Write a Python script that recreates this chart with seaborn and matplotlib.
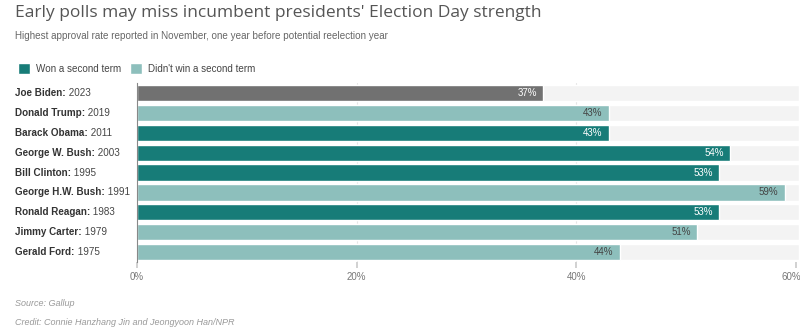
import matplotlib
matplotlib.use("Agg")
import matplotlib.pyplot as plt
import matplotlib.transforms as mtransforms
import seaborn as sns
import pandas as pd
from matplotlib.patches import Patch

names = ["Joe Biden", "Donald Trump", "Barack Obama", "George W. Bush", "Bill Clinton",
         "George H.W. Bush", "Ronald Reagan", "Jimmy Carter", "Gerald Ford"]
years = ["2023", "2019", "2011", "2003", "1995", "1991", "1983", "1979", "1975"]
approval = [37, 43, 43, 54, 53, 59, 53, 51, 44]
status = ["Current", "Didn't win a second term", "Won a second term", "Won a second term",
          "Won a second term", "Didn't win a second term", "Won a second term",
          "Didn't win a second term", "Didn't win a second term"]
x_ticks = [0, 20, 40, 60]
x_tick_labels = ["0%", "20%", "40%", "60%"]

colors = {"Won a second term": "#177c78", "Didn't win a second term": "#8dbfbc", "Current": "#717171"}
label_colors = {"Won a second term": "white", "Didn't win a second term": "#444444", "Current": "white"}

df = pd.DataFrame({"name": names, "year": years, "value": approval, "status": status})
df["label"] = df["name"] + ": " + df["year"]

sns.set_theme(style="white")
plt.rcParams["font.family"] = ["Liberation Sans", "DejaVu Sans"]

fig = plt.figure(figsize=(8, 3.34), dpi=100)
ax = fig.add_axes([0.171, 0.216, 0.828, 0.535])

xmax = 60.27
track = pd.DataFrame({"label": df["label"], "value": [xmax] * len(df)})
sns.barplot(data=track, y="label", x="value", color="#f3f3f3", saturation=1,
            width=0.82, ax=ax, zorder=1)
sns.barplot(data=df, y="label", x="value", hue="status", palette=colors, saturation=1,
            dodge=False, width=0.82, legend=False, ax=ax, zorder=2)

for i, row in df.iterrows():
    ax.text(row["value"] - 0.6, i, f"{row['value']}%", ha="right", va="center",
            fontsize=7, color=label_colors[row["status"]], zorder=3)

ax.set_xlim(0, xmax)
ax.set_ylim(8.5, -0.5)
ax.set_xticks(x_ticks)
ax.set_xticklabels(x_tick_labels, fontsize=7, color="#777777")
ax.tick_params(axis="x", length=4, color="#cccccc", pad=3, bottom=True)
last = ax.get_xticklabels()[-1]
last.set_transform(last.get_transform() + mtransforms.ScaledTranslation(-5 / 100, 0, fig.dpi_scale_trans))
ax.set_yticks([])
ax.set_xlabel("")
ax.set_ylabel("")
for s in ["top", "right", "bottom"]:
    ax.spines[s].set_visible(False)
ax.spines["left"].set_color("#888888")
ax.spines["left"].set_linewidth(0.8)
ax.spines["left"].set_zorder(4)
for t in [20, 40]:
    ax.axvline(t, color="#e6e6e6", lw=0.8, zorder=0.5)

# Y labels: bold name + regular year
fig.canvas.draw()
renderer = fig.canvas.get_renderer()
for i, row in df.iterrows():
    y_disp = ax.transData.transform((0, i))[1]
    y_fig = fig.transFigure.inverted().transform((0, y_disp))[1]
    t1 = fig.text(0.019, y_fig, row["name"] + ":", fontsize=7.1, fontweight="bold",
                  color="#333333", va="center", ha="left")
    bb = t1.get_window_extent(renderer)
    x2 = fig.transFigure.inverted().transform((bb.x1, 0))[0]
    fig.text(x2, y_fig, " " + row["year"], fontsize=7.1, color="#444444", va="center", ha="left")

fig.text(0.019, 0.96, "Early polls may miss incumbent presidents' Election Day strength",
         fontsize=12.5, color="#555555", va="center", ha="left",
         family=["Open Sans", "DejaVu Sans"])
fig.text(0.019, 0.893, "Highest approval rate reported in November, one year before potential reelection year",
         fontsize=7.1, color="#666666", va="center", ha="left")

handles = [Patch(facecolor=colors["Won a second term"], label="Won a second term"),
           Patch(facecolor=colors["Didn't win a second term"], label="Didn't win a second term")]
fig.legend(handles=handles, loc="center left", bbox_to_anchor=(0.011, 0.794), ncol=2,
           frameon=False, fontsize=7.1, handlelength=1.3, handleheight=1.3,
           handletextpad=0.6, columnspacing=0.8, labelcolor="#444444")

fig.text(0.019, 0.09, "Source: Gallup", fontsize=6.5, style="italic", color="#999999", va="center")
fig.text(0.019, 0.035, "Credit: Connie Hanzhang Jin and Jeongyoon Han/NPR", fontsize=6.5,
         style="italic", color="#999999", va="center")

fig.savefig("out.png", dpi=100)
